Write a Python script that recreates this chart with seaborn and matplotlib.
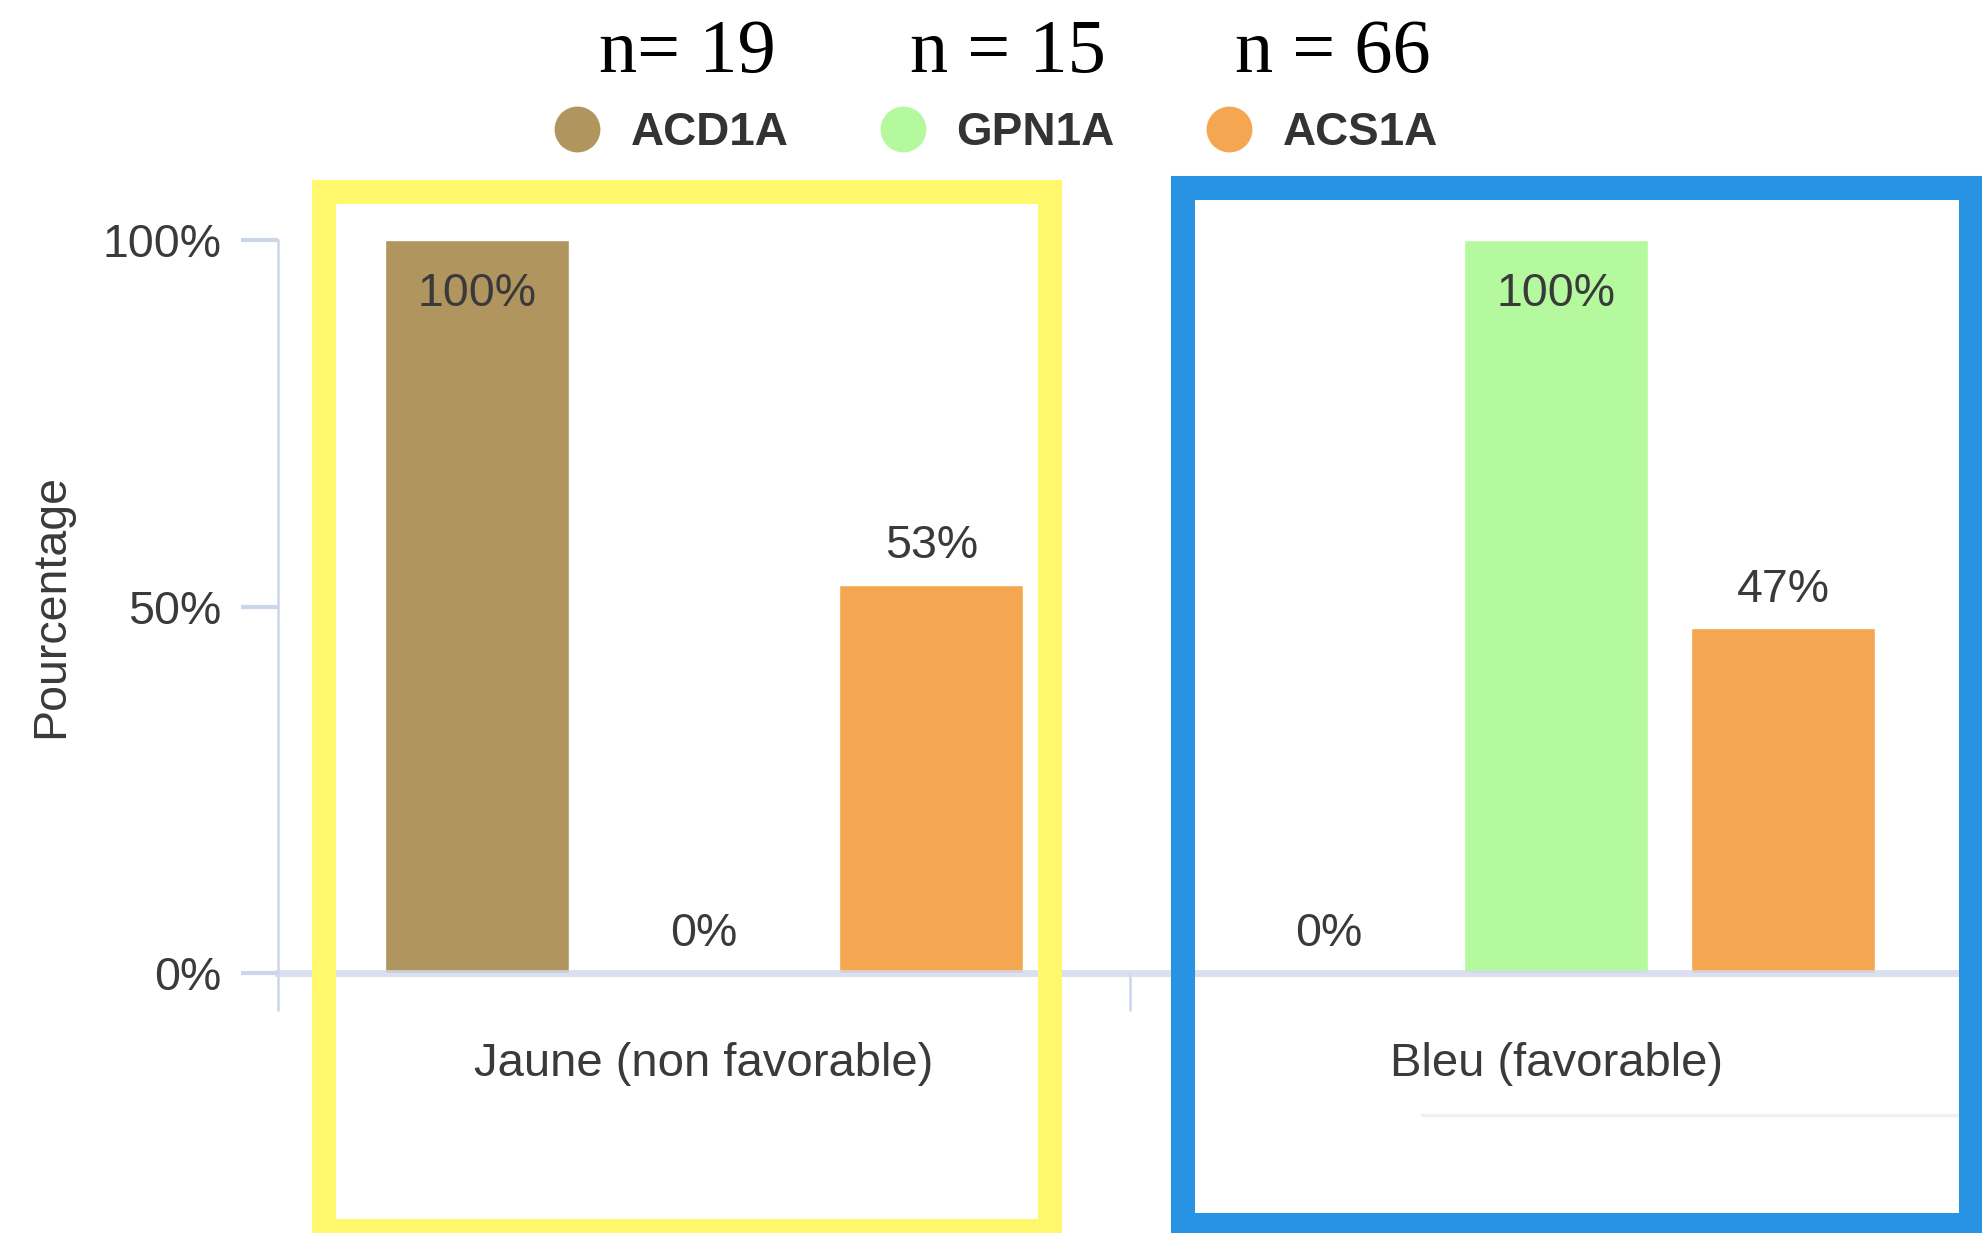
import matplotlib
matplotlib.use("Agg")
import matplotlib.pyplot as plt
from matplotlib.lines import Line2D
from matplotlib.patches import Rectangle
from matplotlib.ticker import PercentFormatter, FixedLocator
import pandas as pd
import seaborn as sns


groupes = ["Jaune (non favorable)", "Bleu (favorable)"]
codes = ["ACD1A", "GPN1A", "ACS1A"]
pct_jaune = [100, 0, 53]
pct_bleu = [0, 100, 47]
n_labels = ["n= 19", "n = 15", "n = 66"]

couleurs = {"ACD1A": "#B0955E", "GPN1A": "#B4F99D", "ACS1A": "#F5A651"}

W, H = 1982, 1233
TEXT = "#3a3a3a"
AXIS = "#CCD6EB"


def px_x(x):
    return x / W


def px_y(y):
    return 1 - y / H


def main():
    df = pd.DataFrame({
        "groupe": [groupes[0]] * 3 + [groupes[1]] * 3,
        "code": codes * 2,
        "pct": pct_jaune + pct_bleu,
    })

    sns.set_style("white")
    plt.rcParams["font.family"] = ["Liberation Sans", "DejaVu Sans"]

    fig = plt.figure(figsize=(W / 100, H / 100), dpi=100)
    ax = fig.add_axes([278 / W, 260 / H, 1 - 278 / W, 733 / H])

    sns.barplot(data=df, x="groupe", y="pct", hue="code", hue_order=codes,
                order=groupes, palette=couleurs, width=0.8, gap=0.19,
                saturation=1, legend=False, ax=ax)

    ax.set_xlim(-0.5, 1.5)
    ax.set_ylim(0, 100)
    ax.set_yticks([0, 50, 100])
    ax.yaxis.set_major_formatter(PercentFormatter(decimals=0))
    ax.set_xlabel("")
    ax.set_ylabel("Pourcentage", fontsize=33.5, color=TEXT)
    ax.yaxis.set_label_coords(-0.12, 0.5)

    # axis styling
    for side in ["top", "right"]:
        ax.spines[side].set_visible(False)
    ax.spines["left"].set_color(AXIS)
    ax.spines["left"].set_linewidth(1.8)
    ax.spines["bottom"].set_color("#D3D9EE")
    ax.spines["bottom"].set_linewidth(5)
    ax.spines["bottom"].set_alpha(0.8)
    ax.spines["bottom"].set_zorder(5)

    ax.tick_params(axis="y", left=True, length=27, width=3, color=AXIS,
                   pad=14, labelsize=33.5, labelcolor=TEXT, direction="out")
    ax.tick_params(axis="x", which="major", bottom=True, length=0, pad=50,
                   labelsize=34, labelcolor=TEXT)
    ax.xaxis.set_minor_locator(FixedLocator([-0.5, 0.5]))
    ax.tick_params(axis="x", which="minor", bottom=True, length=27,
                   width=1.8, color=AXIS, direction="out")

    # value labels
    for container in ax.containers:
        for bar in container:
            h = bar.get_height()
            xc = bar.get_x() + bar.get_width() / 2
            offset = -39 if h >= 90 else 28
            ax.annotate(f"{h:.0f}%", (xc, h), xytext=(0, offset),
                        textcoords="offset points", ha="center", va="center",
                        fontsize=33.5, color=TEXT, zorder=6)

    # legend
    handles = [Line2D([], [], marker="o", linestyle="", markersize=33,
                      markerfacecolor=couleurs[c], markeredgewidth=0)
               for c in codes]
    fig.legend(handles, codes, loc="center", bbox_to_anchor=(0.5026, 0.892),
               ncol=3, frameon=False, prop={"size": 33, "weight": "bold"},
               labelcolor="#333333", handlelength=1.0, handletextpad=0.67,
               columnspacing=2.0, borderpad=0)

    # sample sizes
    for label, xc in zip(n_labels, [687, 1008, 1333]):
        fig.text(px_x(xc), px_y(72), label, ha="center", va="baseline",
                 fontsize=55, color="black", family=["Liberation Serif"])

    # highlight boxes
    fig.add_artist(Rectangle((px_x(324), px_y(1231)), (1050 - 324) / W,
                             (1231 - 192) / H, transform=fig.transFigure,
                             fill=False, edgecolor="#FFF76C", linewidth=17.3,
                             joinstyle="miter", zorder=10))
    fig.add_artist(Rectangle((px_x(1183), px_y(1225)), (1971 - 1183) / W,
                             (1225 - 187.5) / H, transform=fig.transFigure,
                             fill=False, edgecolor="#2893E2", linewidth=17.3,
                             joinstyle="miter", zorder=10))
    fig.add_artist(Line2D([px_x(1422), px_x(1960)], [px_y(1115)] * 2,
                          color="#F0F0F0", linewidth=2.5))

    fig.savefig("out.png", dpi=100)
    plt.close(fig)


if __name__ == "__main__":
    main()
